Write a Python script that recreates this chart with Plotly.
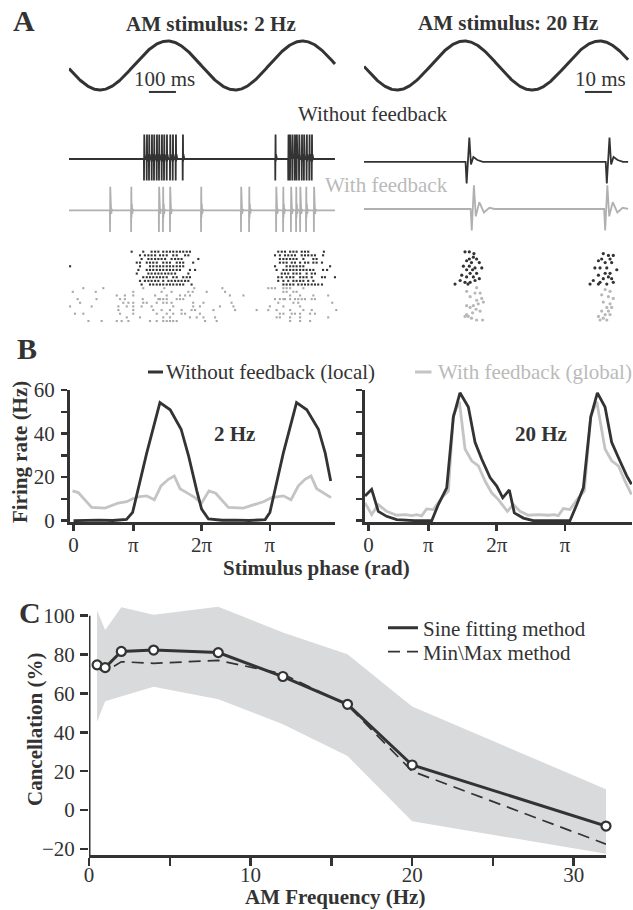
import math
import plotly.graph_objects as go

W, H = 633, 910
def px(x): return x / W
def py(y): return 1 - y / H

DARK = "#333333"
GRAY_TRACE = "#b0b0b0"
GRAY_TEXT = "#bababa"
GRAY_CURVE = "#c4c4c4"
BAND = "#d9dadc"
FONT = "Liberation Serif, Times New Roman, serif"
FS = 21

# ---------------- Panel A data ----------------
STIM_FREQ_HZ = [2, 20]
STIM_TROUGH_MS = [115.0, 12.2]
STIM_END_MS = [985.0, 97.8]
SCALEBAR_MS = [100, 10]
SCALEBAR_LABELS = ["100 ms", "10 ms"]
SCALEBAR_CENTER_MS = [346.0, 86.8]

# extracellular spike waveform templates (ms offset, normalised amplitude)
SPIKE_DARK_DT = [-0.4, 0.0, 1.0, 1.6, 2.5, 4.0, 6.0]
SPIKE_DARK_V = [0.0, -0.88, 1.0, -0.1, 0.2, 0.08, 0.0]
SPIKE_GRAY_DT = [-0.4, 0.0, 0.8, 1.5, 2.8, 4.5, 6.5, 8.5]
SPIKE_GRAY_V = [0.0, -0.88, 0.97, -0.3, 0.28, -0.14, 0.05, 0.0]

SPIKES_2HZ_DARK = [277.8, 287.8, 296.3, 306.3, 314.8, 324.8, 333.3, 343.3, 351.9, 361.9,
                   374.1, 384.1, 395.2, 421.1, 764, 812, 818.5, 827, 836, 843, 852, 862,
                   870, 880, 890, 899]
SPIKES_2HZ_GRAY = [152, 230, 333, 348, 374, 489, 637, 667, 767, 793, 822, 841, 856, 878, 907]
SPIKES_20HZ_DARK = [38.0, 89.9]
SPIKES_20HZ_GRAY = [39.9, 89.3]

LEFT_RASTER_DARK_MS = [
    [232, 275, 306, 319, 331, 349, 362, 374, 386, 399, 411, 423, 436, 448, 775, 788, 800, 819, 831, 843, 862, 874, 886, 944],
    [263, 281, 294, 306, 319, 337, 349, 362, 386, 399, 430, 442, 763, 781, 800, 812, 825, 837, 862, 874, 886, 899, 911, 941],
    [269, 294, 306, 319, 331, 343, 356, 380, 393, 405, 417, 479, 781, 794, 806, 819, 831, 843, 868, 905, 917],
    [251, 263, 288, 300, 312, 325, 349, 362, 374, 399, 411, 423, 460, 781, 794, 806, 825, 837, 856, 874, 886, 905, 917, 937],
    [4, 263, 300, 312, 325, 337, 349, 362, 374, 386, 399, 411, 423, 763, 806, 819, 831, 843, 856, 868, 967],
    [257, 288, 300, 312, 325, 337, 349, 362, 374, 386, 399, 411, 448, 467, 769, 794, 806, 819, 831, 843, 856, 868, 880, 893, 905, 941, 956],
    [251, 294, 306, 319, 331, 343, 356, 368, 380, 393, 442, 788, 800, 812, 831, 843, 856, 880, 899, 911],
    [275, 288, 300, 312, 325, 337, 349, 362, 386, 399, 423, 436, 448, 775, 788, 806, 819, 831, 856, 868, 880, 899, 937, 948, 985],
    [263, 281, 294, 306, 319, 331, 349, 368, 380, 393, 405, 417, 430, 442, 775, 794, 812, 831, 843, 856, 868, 886, 905],
    [269, 300, 312, 325, 337, 349, 362, 374, 386, 399, 411, 423, 454, 794, 806, 819, 831, 849, 862, 874, 886, 899, 911, 923, 937],
]
LEFT_RASTER_GRAY_MS = [
    [53, 127, 275, 353, 464, 568, 738, 751, 763, 794, 806, 819, 868],
    [14, 99, 238, 343, 380, 442, 458, 510, 578, 794, 806, 831, 843],
    [177, 207, 238, 319, 362, 411, 430, 448, 596, 646, 819, 856, 905, 960],
    [32, 102, 189, 207, 273, 331, 337, 349, 362, 399, 411, 423, 763, 781, 794, 800, 819, 837, 849, 862, 874, 899, 911],
    [41, 201, 220, 238, 275, 288, 325, 349, 362, 380, 460, 498, 602, 775, 831, 849, 975],
    [4, 84, 183, 214, 238, 269, 306, 386, 460, 485, 559, 609, 744, 794, 856],
    [183, 238, 312, 343, 374, 417, 454, 467, 535, 615, 695, 738, 769, 819, 868, 899, 990],
    [22, 53, 189, 238, 325, 362, 386, 417, 430, 485, 781, 794, 825, 837, 856, 893, 911],
    [214, 263, 349, 374, 448, 473, 498, 541, 769, 781, 819, 856, 960],
    [72, 121, 177, 195, 220, 300, 325, 349, 362, 374, 386, 399, 504, 547, 819, 856, 893],
]

RIGHT_RASTER_DARK_MS = [37.4, 39.0, 40.7, 40.5, 39.0, 41.7, 38.0, 39.8, 42.7, 36.8, 39.0, 41.1, 43.6,
                        38.0, 40.2, 39.3, 41.7, 36.2, 38.0, 40.5, 42.7, 37.4, 39.3, 35.6, 33.7, 41.1, 38.5,
                        88.6, 90.5, 92.3, 88.0, 91.1, 86.8, 89.3, 91.7, 85.5, 87.4, 89.9, 93.6, 89.3, 91.1,
                        86.8, 88.6, 91.7, 84.9, 87.4, 89.9, 83.7, 86.8, 92.3, 90.5]
RIGHT_RASTER_DARK_TRIAL = [2, 2, 3, 5, 6, 6, 7, 8, 8, 10, 10, 11, 11,
                           12, 12, 14, 14, 15, 16, 16, 17, 19, 19, 18, 20, 18, 20,
                           3, 4, 4, 6, 6, 7, 8, 8, 11, 11, 11, 12, 14, 14,
                           15, 17, 17, 18, 19, 20, 20, 20, 19, 16]
RIGHT_RASTER_GRAY_MS = [38.0, 41.7, 41.1, 43.0, 39.3, 41.7, 43.6, 44.2, 38.0, 40.5, 42.3, 39.3, 41.5,
                        43.0, 38.0, 40.2, 38.6, 41.7, 39.8, 43.9, 37.4,
                        89.3, 91.1, 88.0, 90.5, 92.3, 88.6, 91.1, 89.9, 91.7, 88.0, 90.5, 89.3, 86.8,
                        88.6, 89.9, 87.4, 91.1]
RIGHT_RASTER_GRAY_TRIAL = [24, 22, 25, 25, 27, 29, 28, 30, 32, 32, 31, 33, 34,
                           35, 37, 36, 38, 40, 39, 40, 38,
                           23, 24, 26, 27, 28, 30, 31, 33, 33, 35, 35, 37, 38,
                           39, 40, 40, 37]

# ---------------- Panel B data (phase in units of pi) ----------------
PH_2HZ_DARK = [0.125, 0.3, 0.5, 0.7, 0.9, 0.99, 1.196, 1.39, 1.54, 1.70, 1.81, 1.93, 2.0, 2.1,
               2.3, 2.5, 2.7, 2.93, 3.0, 3.196, 3.39, 3.54, 3.71, 3.81, 3.89]
FR_2HZ_DARK = [0.0, 0.2, 0.3, 0.1, 0.6, 3.8, 31.0, 54.2, 50.9, 42.0, 29.6, 13.7, 5.3, 0.8,
               0.2, 0.3, 0.1, 0.5, 3.8, 31.0, 54.2, 50.9, 42.0, 31.0, 18.2]
PH_2HZ_GRAY = [0.11, 0.195, 0.39, 0.586, 0.781, 0.903, 1.0, 1.098, 1.196, 1.308, 1.406, 1.513, 1.6,
               1.684, 1.781, 1.903, 2.0, 2.108, 2.206, 2.392, 2.611, 2.782, 2.904, 3.026, 3.197,
               3.309, 3.417, 3.514, 3.602, 3.685, 3.783, 3.895]
FR_2HZ_GRAY = [13.7, 12.9, 6.1, 5.8, 8.1, 8.7, 10.2, 11.1, 11.4, 9.6, 16.0, 19.0, 20.5,
               14.7, 12.9, 10.6, 8.1, 13.7, 12.6, 6.1, 5.8, 7.6, 8.7, 10.6, 11.4,
               9.6, 16.0, 19.0, 20.5, 14.7, 12.9, 10.6]
PH_20HZ_DARK = [0.075, 0.172, 0.269, 0.39, 0.538, 0.8, 1.05, 1.146, 1.269, 1.366, 1.463, 1.585,
                1.683, 1.78, 1.902, 2.0, 2.088, 2.184, 2.257, 2.389, 2.535, 2.8, 3.07, 3.17,
                3.266, 3.374, 3.471, 3.583, 3.68, 3.778, 3.9, 3.97]
FR_20HZ_DARK = [11.3, 14.4, 4.3, 2.0, 0.5, 0.0, 0.0, 7.4, 15.1, 47.6, 58.7, 52.2,
                36.0, 28.3, 19.8, 15.9, 10.5, 14.1, 3.6, 1.2, 0.0, 0.0, 0.0, 7.4,
                15.1, 47.6, 58.7, 52.2, 36.0, 29.0, 20.6, 16.7]
PH_20HZ_GRAY = [0.075, 0.172, 0.269, 0.39, 0.538, 0.66, 0.757, 0.83, 0.903, 0.976, 1.073, 1.195,
                1.293, 1.366, 1.454, 1.537, 1.634, 1.731, 1.829, 1.926, 2.024, 2.155, 2.243, 2.34,
                2.462, 2.608, 2.755, 2.837, 2.9, 2.974, 3.07, 3.192, 3.28, 3.374, 3.462, 3.583,
                3.68, 3.778, 3.875, 3.97]
FR_20HZ_GRAY = [8.2, 2.8, 7.4, 4.3, 2.5, 2.8, 2.3, 2.8, 2.2, 5.4, 5.1, 10.5,
                13.6, 48.4, 54.6, 32.9, 27.5, 25.2, 18.2, 12.8, 9.7, 4.3, 7.4, 4.3,
                2.5, 2.8, 2.5, 2.8, 2.3, 5.6, 5.1, 10.5, 13.6, 47.9, 54.6, 32.9,
                27.5, 25.2, 18.2, 12.0]
PHASE_TICKS = [0.125, 1, 2, 3]
PHASE_TICKTEXT = ["0", "π", "2π", "π"]

# ---------------- Panel C data ----------------
AM_FREQ_HZ = [0.5, 1, 2, 4, 8, 12, 16, 20, 32]
CANCEL_SINE = [74.7, 73.3, 81.6, 82.3, 81.0, 68.7, 54.4, 23.2, -8.2]
CANCEL_MINMAX = [73.0, 71.3, 76.3, 75.5, 77.0, 70.0, 54.0, 20.0, -17.5]
BAND_HI = [102.6, 92.6, 104.3, 100.5, 104.6, 91.4, 80.2, 53.3, 10.7]
BAND_LO = [45.5, 56.0, 58.4, 63.4, 57.0, 44.2, 27.8, -5.7, -22.5]

fig = go.Figure()
NOHOVER = dict(hoverinfo="skip", showlegend=False)

# ---- A: stimulus sines + scale bars ----
annotations = []
for col, (xa, ya) in enumerate([("x", "y"), ("x2", "y2")]):
    f = STIM_FREQ_HZ[col]
    n = 500
    t = [STIM_END_MS[col] * i / (n - 1) for i in range(n)]
    s = [-math.cos(2 * math.pi * f * (ti - STIM_TROUGH_MS[col]) / 1000.0) for ti in t]
    fig.add_trace(go.Scatter(x=t, y=s, mode="lines", line=dict(color=DARK, width=3),
                             xaxis=xa, yaxis=ya, **NOHOVER))
    c, L = SCALEBAR_CENTER_MS[col], SCALEBAR_MS[col]
    fig.add_trace(go.Scatter(x=[c - L / 2, c + L / 2], y=[-1.08, -1.08], mode="lines",
                             line=dict(color=DARK, width=2), xaxis=xa, yaxis=ya, **NOHOVER))
    annotations.append(dict(text=SCALEBAR_LABELS[col], x=c + L * 0.07, y=-0.55, xref=xa, yref=ya,
                            showarrow=False, font=dict(family=FONT, size=FS, color=DARK)))

# ---- A: spike traces ----
def build_trace(times, dts, vs, offset, t_end):
    xs, ys = [0.0], [offset]
    for st in times:
        for dt, v in zip(dts, vs):
            xs.append(st + dt)
            ys.append(offset + v)
    xs.append(t_end)
    ys.append(offset)
    return xs, ys

trace_sets = [
    ("x3", "y3", SPIKES_2HZ_DARK, SPIKES_2HZ_GRAY, 985.0, 0.0, -2.1),
    ("x4", "y4", SPIKES_20HZ_DARK, SPIKES_20HZ_GRAY, 97.8, -0.12, -2.04),
]
for xa, ya, sd, sg, tend, od, og in trace_sets:
    xd, yd = build_trace(sd, SPIKE_DARK_DT, SPIKE_DARK_V, od, tend)
    xg, yg = build_trace(sg, SPIKE_GRAY_DT, SPIKE_GRAY_V, og, tend)
    fig.add_trace(go.Scatter(x=xd, y=yd, mode="lines", line=dict(color=DARK, width=1.8),
                             xaxis=xa, yaxis=ya, **NOHOVER))
    fig.add_trace(go.Scatter(x=xg, y=yg, mode="lines", line=dict(color=GRAY_TRACE, width=1.8),
                             xaxis=xa, yaxis=ya, **NOHOVER))

# ---- A: rasters ----
rx, ry = [], []
for i, row in enumerate(LEFT_RASTER_DARK_MS):
    rx += row
    ry += [i + 1] * len(row)
fig.add_trace(go.Scatter(x=rx, y=ry, mode="markers", xaxis="x5", yaxis="y5",
                         marker=dict(symbol="square", size=2.1, color=DARK, line=dict(width=0)),
                         **NOHOVER))
gx, gy = [], []
for i, row in enumerate(LEFT_RASTER_GRAY_MS):
    gx += row
    gy += [i + 11] * len(row)
fig.add_trace(go.Scatter(x=gx, y=gy, mode="markers", xaxis="x5", yaxis="y5",
                         marker=dict(symbol="square", size=2.1, color="#a8a8a8", line=dict(width=0)),
                         **NOHOVER))
fig.add_trace(go.Scatter(x=RIGHT_RASTER_DARK_MS, y=RIGHT_RASTER_DARK_TRIAL, mode="markers",
                         xaxis="x6", yaxis="y6",
                         marker=dict(symbol="circle", size=3.2, color=DARK, line=dict(width=0)),
                         **NOHOVER))
fig.add_trace(go.Scatter(x=RIGHT_RASTER_GRAY_MS, y=RIGHT_RASTER_GRAY_TRIAL, mode="markers",
                         xaxis="x6", yaxis="y6",
                         marker=dict(symbol="circle", size=3.2, color="#b8b8b8", line=dict(width=0)),
                         **NOHOVER))

# ---- B: firing rate ----
for xa, ya, phd, frd, phg, frg in [("x7", "y7", PH_2HZ_DARK, FR_2HZ_DARK, PH_2HZ_GRAY, FR_2HZ_GRAY),
                                   ("x8", "y8", PH_20HZ_DARK, FR_20HZ_DARK, PH_20HZ_GRAY, FR_20HZ_GRAY)]:
    fig.add_trace(go.Scatter(x=phg, y=frg, mode="lines", line=dict(color=GRAY_CURVE, width=2.8),
                             xaxis=xa, yaxis=ya, **NOHOVER))
    fig.add_trace(go.Scatter(x=phd, y=frd, mode="lines", line=dict(color=DARK, width=2.8),
                             xaxis=xa, yaxis=ya, **NOHOVER))

# ---- C: cancellation ----
fig.add_trace(go.Scatter(x=AM_FREQ_HZ + AM_FREQ_HZ[::-1], y=BAND_HI + BAND_LO[::-1],
                         mode="lines", fill="toself", fillcolor=BAND, line=dict(width=0),
                         xaxis="x9", yaxis="y9", **NOHOVER))
fig.add_trace(go.Scatter(x=AM_FREQ_HZ, y=CANCEL_MINMAX, mode="lines", name="Min\\Max method",
                         line=dict(color=DARK, width=1.7, dash="12px,7px"),
                         xaxis="x9", yaxis="y9", legend="legend2", hoverinfo="skip"))
fig.add_trace(go.Scatter(x=AM_FREQ_HZ, y=CANCEL_SINE, mode="lines", name="Sine fitting method",
                         line=dict(color=DARK, width=3),
                         xaxis="x9", yaxis="y9", legend="legend", hoverinfo="skip"))
fig.add_trace(go.Scatter(x=AM_FREQ_HZ, y=CANCEL_SINE, mode="markers", cliponaxis=False,
                         marker=dict(symbol="circle", size=9, color="white",
                                     line=dict(color=DARK, width=2.2)),
                         xaxis="x9", yaxis="y9", **NOHOVER))

# ---- axes ----
def dom_x(a, b): return [px(a), px(b)]
def dom_y(top, bottom): return [py(bottom), py(top)]

hidden = dict(visible=False, fixedrange=True)
TICKFONT = dict(family=FONT, size=FS, color=DARK)
axis_style = dict(showline=True, linecolor=DARK, linewidth=3, ticks="outside", tickcolor=DARK,
                  tickwidth=2.5, showgrid=False, zeroline=False, tickfont=TICKFONT,
                  fixedrange=True, automargin=False)

layout_axes = dict(
    xaxis=dict(domain=dom_x(69, 339), range=[0, 1000], anchor="y", **hidden),
    yaxis=dict(domain=dom_y(30, 100), range=[-1.408, 1.449], anchor="x", **hidden),
    xaxis2=dict(domain=dom_x(364, 633), range=[0, 99.6], anchor="y2", **hidden),
    yaxis2=dict(domain=dom_y(30, 100), range=[-1.408, 1.449], anchor="x2", **hidden),
    xaxis3=dict(domain=dom_x(69, 339), range=[0, 1000], anchor="y3", **hidden),
    yaxis3=dict(domain=dom_y(120, 245), range=[-3.51, 1.592], anchor="x3", **hidden),
    xaxis4=dict(domain=dom_x(364, 633), range=[0, 99.6], anchor="y4", **hidden),
    yaxis4=dict(domain=dom_y(120, 245), range=[-3.51, 1.592], anchor="x4", **hidden),
    xaxis5=dict(domain=dom_x(69, 339), range=[0, 1000], anchor="y5", **hidden),
    yaxis5=dict(domain=dom_y(246, 327), range=[21.64, -0.56], anchor="x5", **hidden),
    xaxis6=dict(domain=dom_x(364, 633), range=[0, 99.6], anchor="y6", **hidden),
    yaxis6=dict(domain=dom_y(246, 327), range=[43.9, -1.23], anchor="x6", **hidden),
    xaxis7=dict(domain=dom_x(70, 335), range=[0.0732, 3.953], anchor="y7",
                tickvals=PHASE_TICKS, ticktext=PHASE_TICKTEXT, ticklen=6,
                ticklabelstandoff=-4, **axis_style),
    yaxis7=dict(domain=dom_y(390, 522), range=[-0.6, 60], anchor="x7",
                tickvals=[0, 10, 20, 30, 40, 50, 60],
                ticktext=["0", "", "20", "", "40", "", "60"], ticklen=6,
                ticklabelstandoff=2, **axis_style),
    xaxis8=dict(domain=dom_x(365, 632), range=[0.0746, 3.977], anchor="y8",
                tickvals=PHASE_TICKS, ticktext=PHASE_TICKTEXT, ticklen=6,
                ticklabelstandoff=-4, **axis_style),
    yaxis8=dict(domain=dom_y(390, 522), range=[-0.6, 60], anchor="x8",
                tickvals=[0, 10, 20, 30, 40, 50, 60], showticklabels=False, ticklen=6,
                **axis_style),
    xaxis9=dict(domain=dom_x(89, 606), range=[0, 32], anchor="y9",
                tickvals=[0, 5, 10, 15, 20, 25, 30],
                ticktext=["0", "", "10", "", "20", "", "30"], ticklen=8,
                ticklabelstandoff=-9, **axis_style),
    yaxis9=dict(domain=dom_y(604, 855), range=[-23.1, 106], anchor="x9",
                tickvals=[-20, 0, 20, 40, 60, 80, 100], ticklen=8, ticklabelstandoff=1,
                **{**axis_style, "showline": False}),
)

def pann(text, x, y, size=FS, color=DARK, bold=False, xanchor="center", angle=0):
    return dict(text=f"<b>{text}</b>" if bold else text, x=px(x), y=py(y), xref="paper",
                yref="paper", showarrow=False, xanchor=xanchor, yanchor="middle",
                textangle=angle, font=dict(family=FONT, size=size, color=color))

annotations += [
    pann("A", 24, 20, size=30, bold=True),
    pann("B", 27, 348, size=30, bold=True),
    pann("C", 30, 612, size=30, bold=True),
    pann("AM stimulus: 2 Hz", 211, 24, bold=True),
    pann("AM stimulus: 20 Hz", 508, 23, bold=True),
    pann("Without feedback", 373, 114),
    pann("With feedback", 386, 185, color=GRAY_TEXT),
    pann("Without feedback (local)", 164, 372, xanchor="left"),
    pann("With feedback (global)", 436, 372, color=GRAY_TEXT, xanchor="left"),
    pann("2 Hz", 234, 434, bold=True),
    pann("20 Hz", 541, 434, bold=True),
    pann("Firing rate (Hz)", 20, 452, bold=True, angle=-90),
    pann("Stimulus phase (rad)", 316, 568, bold=True),
    pann("Cancellation (%)", 35, 730, bold=True, angle=-90),
    pann("AM Frequency (Hz)", 335, 897, bold=True),
]

shapes = [
    dict(type="line", xref="paper", yref="paper", x0=px(148), x1=px(163), y0=py(372), y1=py(372),
         line=dict(color=DARK, width=3)),
    dict(type="line", xref="paper", yref="paper", x0=px(415), x1=px(431.5), y0=py(372), y1=py(372),
         line=dict(color=GRAY_CURVE, width=3)),
    dict(type="line", xref="x9", yref="y9", x0=0, x1=0, y0=-23.1, y1=100,
         line=dict(color=DARK, width=3)),
]

LEG = dict(xanchor="left", yanchor="middle", font=dict(family=FONT, size=FS, color=DARK),
           bgcolor="rgba(0,0,0,0)", borderwidth=0)
fig.update_layout(
    width=W, height=H, autosize=False,
    margin=dict(l=0, r=0, t=0, b=0, pad=0, autoexpand=False),
    paper_bgcolor="white", plot_bgcolor="white",
    font=dict(family=FONT, size=FS, color=DARK),
    showlegend=True,
    legend=dict(x=px(383), y=py(628), **LEG),
    legend2=dict(x=px(383), y=py(652), **LEG),
    annotations=annotations,
    shapes=shapes,
    hovermode=False,
    **layout_axes,
)

fig.write_html("out.html", config={"displayModeBar": False, "staticPlot": True},
               post_script="document.documentElement.style.margin='0';"
                           "document.body.style.margin='0';document.body.style.padding='0';"
                           "document.documentElement.style.overflow='hidden';")
